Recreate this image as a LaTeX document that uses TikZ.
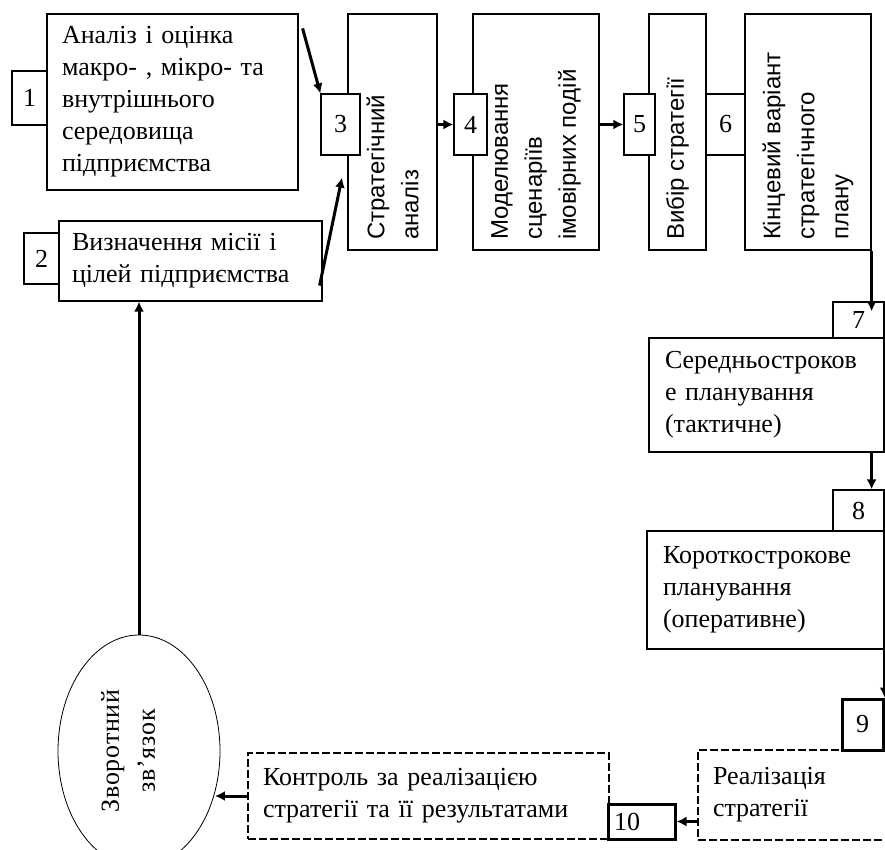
\documentclass[tikz,border=0pt]{standalone}
\usepackage{fontspec}
\usepackage{graphicx}
\setmainfont{Liberation Serif}
\newfontfamily\rotsans{Liberation Sans}
\newfontfamily\wideserif[LetterSpace=3]{Liberation Serif}
\usetikzlibrary{arrows.meta,shapes.geometric}

\newcommand{\boxfont}{\fontsize{26}{32}\selectfont}
\newcommand{\sidefont}{\rotsans\fontsize{24}{34}\selectfont}
\newcommand{\loopfont}{\wideserif\fontsize{26}{36}\selectfont}
\newcommand{\rottext}[2]{\rotatebox{90}{\parbox{#1}{\raggedright #2}}}

\begin{document}
\begin{tikzpicture}[-,>={Latex[length=10pt,width=10pt]},x=1pt,y=-1pt,
  box/.style={draw,line width=1.2pt,inner sep=0pt,font=\boxfont},
  textbox/.style={box,align=left,inner xsep=15pt},
  sidebox/.style={box,font=\sidefont},
  numbox/.style={box,fill=white},
  dashbox/.style={textbox,line width=2.4pt,dash pattern=on 8pt off 3pt},
  flow/.style={->,line width=3pt}]

\useasboundingbox (0,0) rectangle (885,850);

% upper row
\node[textbox, text width=221pt, minimum height=176pt] (b1) at (172.5,102) {Аналіз і оцінка\\макро- , мікро- та\\внутрішнього\\середовища\\підприємства};
\node[textbox, inner xsep=13pt, text width=237pt, minimum height=80pt] (b2) at (190.5,261) {Визначення місії і\\цілей підприємства};
\node[sidebox, minimum width=89pt, minimum height=236pt] (b3) at (392.5,132) {\rottext{216pt}{Стратегічний\\аналіз}};
\node[sidebox, minimum width=126pt, minimum height=236pt] (b4) at (536,132) {\rottext{216pt}{Моделювання\\сценаріїв\\імовірних подій}};
\node[sidebox, minimum width=57pt, minimum height=236pt] (b5) at (677.5,132) {\rottext{216pt}{Вибір стратегії}};
\node[sidebox, minimum width=126pt, minimum height=236pt] (b6) at (808,132) {\rottext{216pt}{Кінцевий варіант\\стратегічного\\плану}};

% right column
\node[textbox, inner xsep=16pt, text width=203pt, minimum height=114pt] (b7) at (766.5,395) {Середньостроков\\е планування\\(тактичне)};
\node[textbox, inner xsep=16pt, text width=205pt, minimum height=118pt] (b8) at (765.5,590) {Короткострокове\\планування\\(оперативне)};

% bottom row
\node[dashbox, text width=177pt, minimum height=90pt] (b9) at (801.5,795) {Реалізація\\стратегії};
\node[dashbox, text width=331pt, minimum height=86pt] (b10) at (428.5,796) {Контроль за реалізацією\\стратегії та її результатами};
\node[draw, ellipse, line width=0.8pt, inner sep=0pt, minimum width=162pt, minimum height=232pt, font=\loopfont] (fb) at (139,751) {\rotatebox{90}{\parbox{150pt}{\centering Зворотний\\зв’язок}}\hspace*{22pt}};

% numbers
\node[numbox, minimum width=35pt, minimum height=54pt] (n1) at (29.5,98) {1};
\node[numbox, minimum width=35pt, minimum height=51pt] (n2) at (41.5,258.5) {2};
\node[numbox, minimum width=39pt, minimum height=61pt] (n3) at (340.5,124.5) {3};
\node[numbox, minimum width=33pt, minimum height=61pt] (n4) at (470.5,124.5) {4};
\node[numbox, minimum width=31pt, minimum height=61pt] (n5) at (639.5,124.5) {5};
\node[numbox, minimum width=39pt, minimum height=61pt] (n6) at (725.5,124.5) {6};
\node[numbox, minimum width=51pt, minimum height=36pt] (n7) at (858.5,320) {7};
\node[numbox, minimum width=51pt, minimum height=41pt] (n8) at (858.5,510.5) {8};
\node[numbox, line width=3pt, minimum width=41pt, minimum height=51pt] (n9) at (862.5,724.5) {9};
\node[numbox, line width=3pt, align=left, inner xsep=6pt, text width=55pt, minimum height=35pt] (n10) at (641.5,821.5) {10};

% arrows
\draw[flow] ([shift={(4,15)}]b1.north east) -- (n3.north west);
\draw[flow] ([shift={(-3,-16)}]b2.south east) -- ([shift={(1.5,22)}]n3.south);
\draw[flow] (b3.east |- n4.west) -- (n4.west);
\draw[flow] (b4.east |- n5.west) -- (n5.west);
\draw[flow, shorten >=-10pt] (b6.south east) -- (b6.south east |- n7.north);
\draw[flow] (b7.south -| b6.east) -- (n8.north -| b6.east);
\draw[flow] (n9.north east |- b8.south) -- (n9.north east);
\draw[flow] (b9.west |- n10.east) -- (n10.east);
\draw[flow] (b10.west) -- (b10.west -| fb.-29);
\draw[flow] (fb.north) -- (fb.north |- b2.south);

\end{tikzpicture}
\end{document}
